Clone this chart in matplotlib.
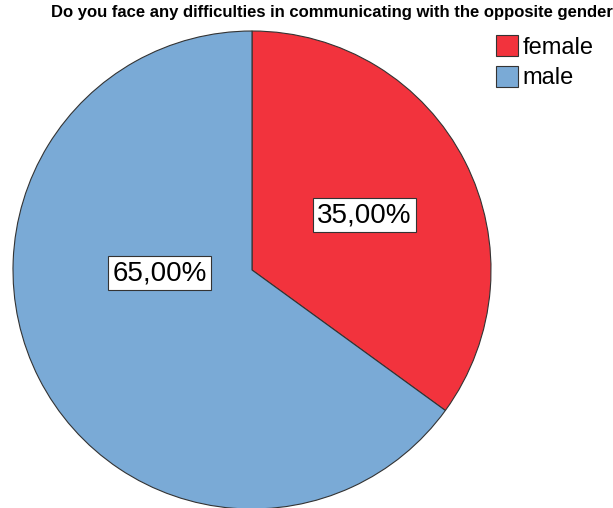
import matplotlib.pyplot as plt
from matplotlib.patches import Patch

# данные
categories = ["female", "male"]
shares = [35.0, 65.0]
pct_labels = ["35,00%", "65,00%"]
colors = ["#f2333d", "#7aaad6"]

W, H = 613, 508
fig = plt.figure(figsize=(W / 100, H / 100), dpi=100)

# оси под круг: центр (252, 270), радиус 239 px
cx, cy, r = 252, 270, 239
ax = fig.add_axes([(cx - r) / W, (H - cy - r) / H, 2 * r / W, 2 * r / H])

ax.pie(shares, colors=colors, startangle=90, counterclock=False, radius=1,
       wedgeprops=dict(edgecolor="#333333", linewidth=0.8))
# pie() сам ставит пределы, переставим после него
ax.set_xlim(-1, 1)
ax.set_ylim(-1, 1)
ax.set_aspect("equal")
ax.axis("off")

# подписи процентов (положения как на картинке)
label_pos = [((364.5 - cx) / r, (cy - 215) / r), ((159.5 - cx) / r, (cy - 273) / r)]
for (x, y), txt in zip(label_pos, pct_labels):
    ax.text(x, y, txt, ha="center", va="center", fontsize=20,
            family="Liberation Sans",
            bbox=dict(boxstyle="square,pad=0.15", facecolor="white",
                      edgecolor="#333333", linewidth=0.8))

fig.text(331.5 / W, 1 - 13 / H, "Do you face any difficulties in communicating with the opposite gender",
         ha="center", va="center", fontsize=12, fontweight="bold", family="Liberation Sans")

handles = [Patch(facecolor=c, edgecolor="#333333", linewidth=0.8) for c in colors]
fig.legend(handles, categories, loc="upper left", bbox_to_anchor=(496 / W, 1 - 35 / H),
           frameon=False, prop={"family": "Liberation Sans", "size": 17},
           handlelength=0.93, handleheight=1.0, handletextpad=0.2,
           labelspacing=0.3, borderpad=0, borderaxespad=0)

fig.savefig("out.png", dpi=100)
